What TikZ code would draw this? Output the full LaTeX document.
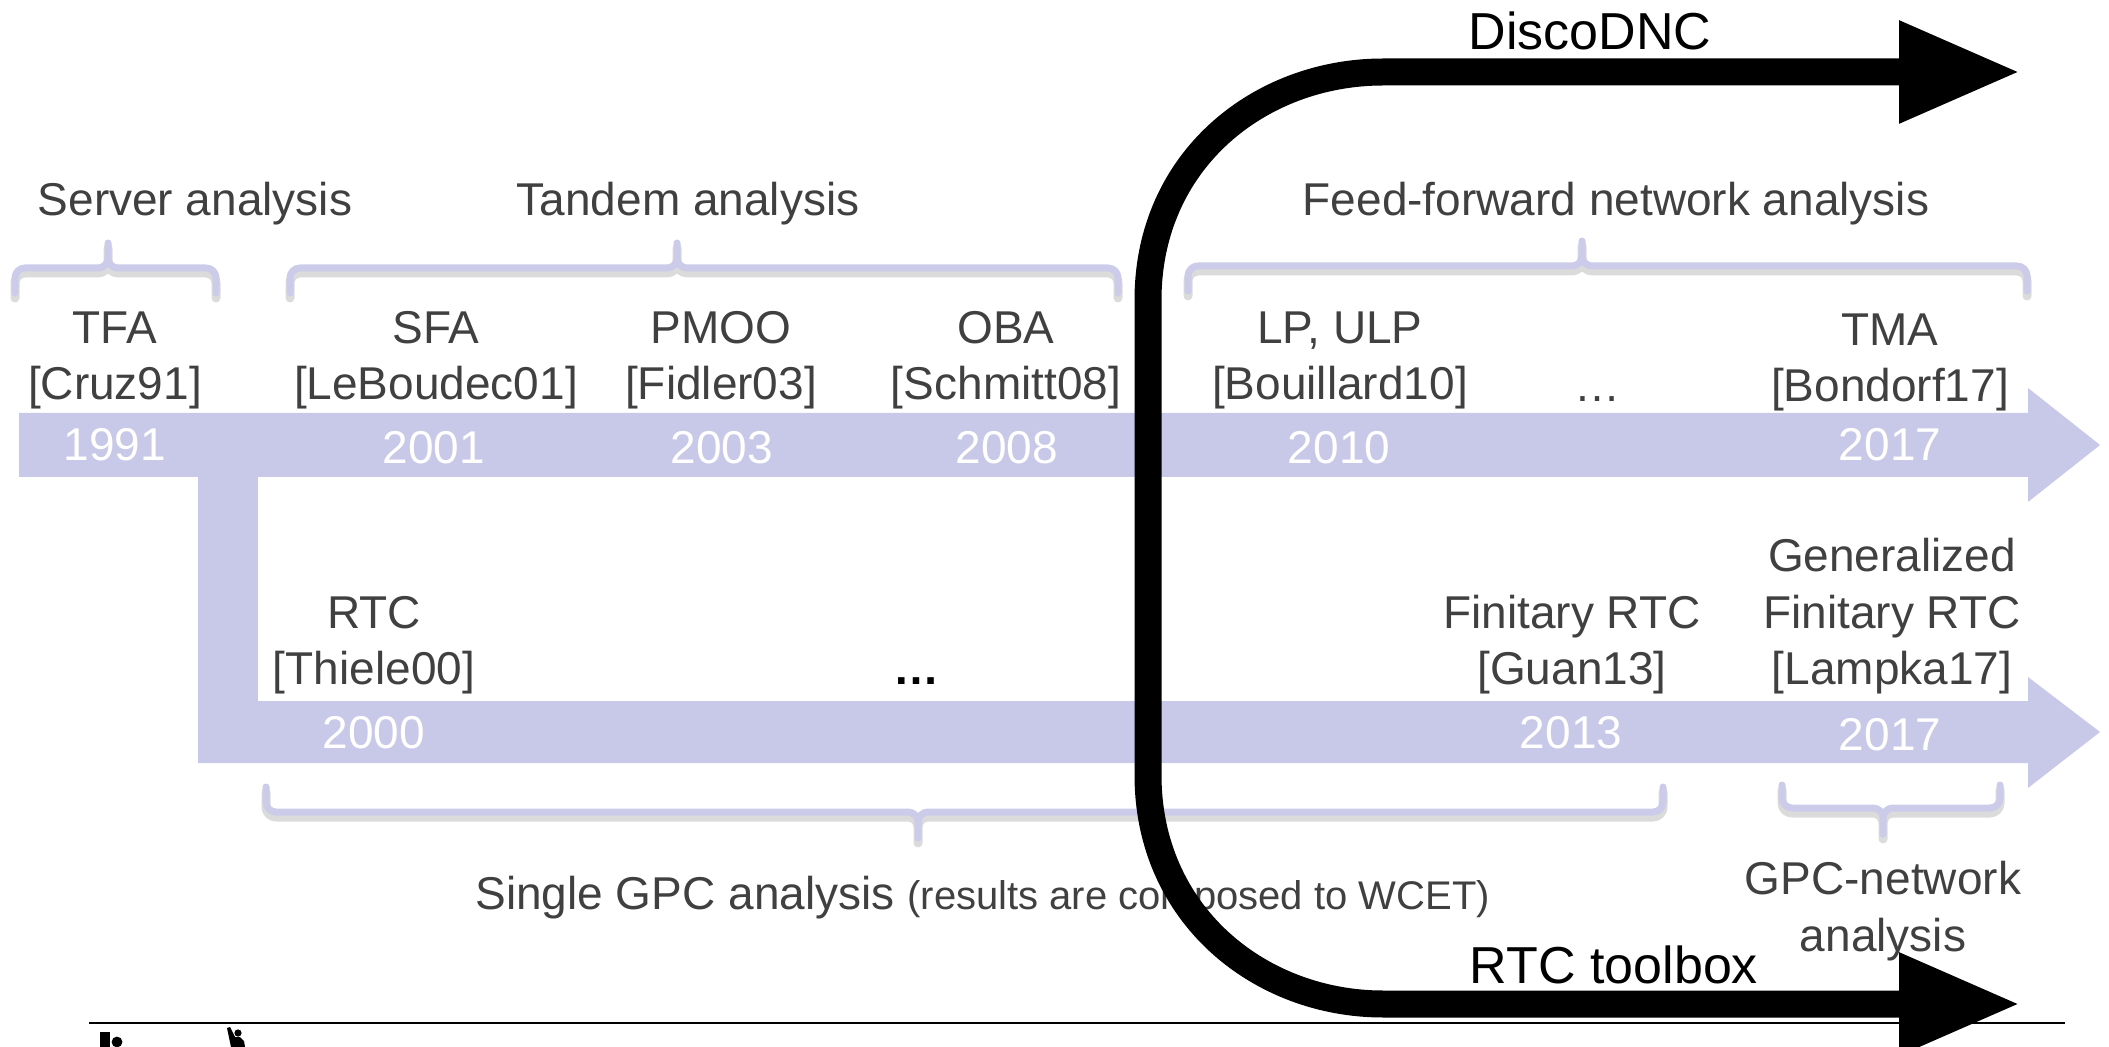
\documentclass[tikz,border=0pt]{standalone}
\usepackage{fontspec}
\setmainfont{Liberation Sans}
\usetikzlibrary{arrows.meta}
\definecolor{band}{RGB}{200,200,232}
\definecolor{brc}{RGB}{204,204,234}
\definecolor{txt}{RGB}{64,64,64}
\tikzset{
 lbl/.style={font=\fontsize{23}{28}\selectfont, text=txt, inner sep=0pt, anchor=base},
 small/.style={font=\fontsize{20}{24}\selectfont, text=txt, inner sep=0pt, anchor=base},
 yr/.style={lbl, text=white},
 big/.style={font=\fontsize{26}{30}\selectfont, text=black, inner sep=0pt, anchor=base},
 brace/.style={draw=brc, line width=3.5pt, line cap=round, line join=round, rounded corners=5pt},
 braceshadow/.style={draw=black!14, line width=4.5pt, line cap=round, line join=round, rounded corners=5pt},
 flow/.style={line width=13.5pt, {Triangle[length=61pt,width=47.5pt]}-{Triangle[length=61pt,width=47.5pt]}},
}
% #1 x1, #2 x2, #3 xm, #4 y, #5 yend, #6 ytip
\newcommand\mybrace[6]{%
 \draw[braceshadow, yshift=-2.5pt] (#1,#5) -- (#1,#4) -- (#3,#4) -- (#3,#6) (#3,#6) -- (#3,#4) -- (#2,#4) -- (#2,#5);
 \draw[brace] (#1,#5) -- (#1,#4) -- (#3,#4) -- (#3,#6) (#3,#6) -- (#3,#4) -- (#2,#4) -- (#2,#5);
}
\begin{document}
\begin{tikzpicture}[x=0.5pt,y=-0.5pt]
\useasboundingbox (0,0) rectangle (2109,1047);
\clip (0,0) rectangle (2109,1047);

% timeline bands
\fill[band] (19,413) -- (2028,413) -- (2028,388) -- (2100,445) -- (2028,502) -- (2028,477) -- (19,477) -- cycle;
\fill[band] (198,470) rectangle (258,763);
\fill[band] (198,701) -- (2028,701) -- (2028,677) -- (2100,732) -- (2028,788) -- (2028,763) -- (198,763) -- cycle;

% braces
\mybrace{15}{216}{108}{268}{293}{243}
\mybrace{290}{1118}{677}{268}{293}{243}
\mybrace{1188}{2027}{1582}{266}{291}{241}
\mybrace{266}{1663}{918}{812}{787}{838}
\mybrace{1782}{2000}{1883}{808}{785}{834}

% group labels
\node[lbl] (server) at (195,216) {Server analysis};
\node[lbl] (tandem) at (688,216) {Tandem analysis};
\node[lbl] (ff) at (1616,216) {Feed-forward network analysis};

% top row
\node[lbl] (tfa) at (115,344) {TFA};
\node[lbl] (tfaref) at (115,400) {[Cruz91]};
\node[yr] (y1991) at (115,461) {1991};
\node[lbl] (sfa) at (436,344) {SFA};
\node[lbl] (sfaref) at (436,400) {[LeBoudec01]};
\node[yr] (y2001) at (434,464) {2001};
\node[lbl] (pmoo) at (721,344) {PMOO};
\node[lbl] (pmooref) at (721,400) {[Fidler03]};
\node[yr] (y2003) at (722,464) {2003};
\node[lbl] (oba) at (1006,344) {OBA};
\node[lbl] (obaref) at (1006,400) {[Schmitt08]};
\node[yr] (y2008) at (1007,464) {2008};
\node[lbl] (lp) at (1340,344) {LP, ULP};
\node[lbl] (lpref) at (1340,400) {[Bouillard10]};
\node[yr] (y2010) at (1339,464) {2010};
\node[lbl] (tdots) at (1597,402) {\ldots};
\node[lbl] (tma) at (1890,346) {TMA};
\node[lbl] (tmaref) at (1890,402) {[Bondorf17]};
\node[yr] (y2017a) at (1890,461) {2017};

% bottom row
\node[lbl] (rtc) at (374,628) {RTC};
\node[lbl] (rtcref) at (374,684) {[Thiele00]};
\node[yr] (y2000) at (374,748) {2000};
\node[lbl, text=black, font=\fontsize{23}{28}\selectfont\bfseries] (bdots) at (916,684) {\ldots};
\node[lbl] (frtc) at (1572,628) {Finitary RTC};
\node[lbl] (frtcref) at (1572,684) {[Guan13]};
\node[yr] (y2013) at (1571,748) {2013};
\node[lbl] (gen) at (1892,572) {Generalized};
\node[lbl] (gfrtc) at (1892,628) {Finitary RTC};
\node[lbl] (gfrtcref) at (1892,684) {[Lampka17]};
\node[yr] (y2017b) at (1890,750) {2017};

% bottom labels
\node[lbl, anchor=base west] (single) at (475,909) {Single GPC analysis \fontsize{20}{24}\selectfont(results are composed to WCET)};
\node[lbl] (gpcnet) at (1883,894) {GPC-network};
\node[lbl] (gpcnet2) at (1883,951) {analysis};

% tools
\node[big] (disco) at (1590,50) {DiscoDNC};
\node[big] (rtctb) at (1614,983) {RTC toolbox};

% rule and logo fragments
\coordinate (ruleL) at (89,1023);
\coordinate (ruleR) at (2065,1023);
\draw[line width=1pt] (ruleL) -- (ruleR);
\fill (100,1032) rectangle (110,1047);
\fill (117,1042) circle (2.7pt);
\fill (227,1028) -- (230,1027) -- (235,1037) -- (240,1037) -- (244,1041) -- (245,1047) -- (231,1047) -- cycle;
\fill (238,1033) circle (1.8pt);

% black flow arrow
\coordinate (dtip) at (2021,72);
\coordinate (rtip) at (2021,1004);
\draw[flow] (dtip) -- (1383,72) .. controls (1260,72) and (1148,160) .. (1148,300) -- (1148,775) .. controls (1148,915) and (1260,1004) .. (1383,1004) -- (rtip);
\end{tikzpicture}
\end{document}
